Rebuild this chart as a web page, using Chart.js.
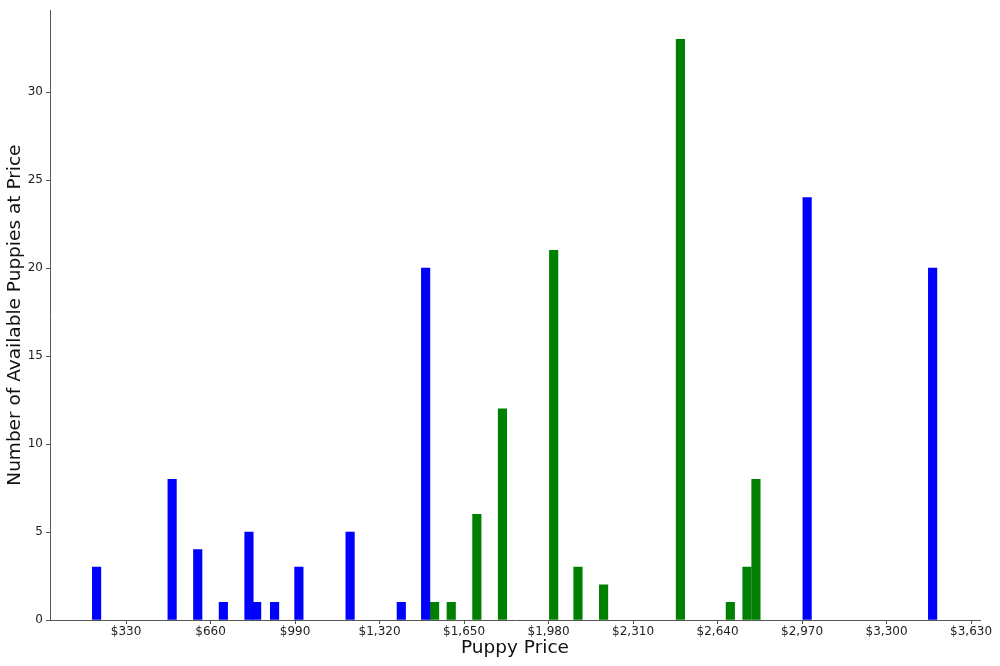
<!DOCTYPE html>
<html>
<head>
<meta charset="utf-8">
<script src="https://cdn.jsdelivr.net/npm/chart.js@4"></script>
<style>
  html, body { margin: 0; padding: 0; background: #fff; }
  #chart { display: block; }
</style>
</head>
<body>
<canvas id="chart" width="1000" height="666"></canvas>
<script>
// puppy prices (bin centers) and counts
const bluePrices = [215, 510, 610, 710, 810, 840, 910, 1005, 1205, 1405, 1500, 2990, 3480];
const blueCounts = [3, 8, 4, 1, 5, 1, 1, 3, 5, 1, 20, 24, 20];

const greenPrices = [1535, 1600, 1700, 1800, 2000, 2095, 2195, 2495, 2690, 2755, 2790];
const greenCounts = [1, 1, 6, 12, 21, 3, 2, 33, 1, 3, 8];

const xTicks = [330, 660, 990, 1320, 1650, 1980, 2310, 2640, 2970, 3300, 3630];
const yTicks = [0, 5, 10, 15, 20, 25, 30];

const toPoints = (xs, ys) => xs.map((x, i) => ({ x: x, y: ys[i] }));

const ctx = document.getElementById('chart');
Chart.defaults.font.family = '"DejaVu Sans", sans-serif';
Chart.defaults.color = '#222';

new Chart(ctx, {
  type: 'bar',
  data: {
    datasets: [
      {
        label: 'blue',
        data: toPoints(bluePrices, blueCounts),
        backgroundColor: '#0000ff',
        barThickness: 8.5,
        grouped: false
      },
      {
        label: 'green',
        data: toPoints(greenPrices, greenCounts),
        backgroundColor: '#008000',
        barThickness: 8.5,
        grouped: false
      }
    ]
  },
  options: {
    responsive: false,
    animation: false,
    devicePixelRatio: 1,
    layout: { padding: { top: 6, right: 20, left: 0, bottom: 0 } },
    plugins: { legend: { display: false }, tooltip: { enabled: false } },
    scales: {
      x: {
        type: 'linear',
        offset: false,
        min: 33,
        max: 3665,
        afterBuildTicks: (axis) => { axis.ticks = xTicks.map(v => ({ value: v })); },
        afterFit: (axis) => { axis.height = 46; },
        ticks: {
          font: { size: 12 },
          padding: 1,
          maxRotation: 0,
          autoSkip: false,
          callback: (v) => '$' + v.toLocaleString('en-US')
        },
        grid: { offset: false, drawOnChartArea: false, drawTicks: true, tickLength: 4, color: '#555' },
        border: { display: true, color: '#555', width: 1 },
        title: {
          display: true,
          text: 'Puppy Price',
          font: { size: 18.5 },
          color: '#111',
          padding: { top: 0, bottom: 7 }
        }
      },
      y: {
        min: 0,
        max: 34.65,
        afterBuildTicks: (axis) => { axis.ticks = yTicks.map(v => ({ value: v })); },
        afterFit: (axis) => { axis.width = 50; },
        ticks: { font: { size: 12 }, padding: 3 },
        grid: { drawOnChartArea: false, drawTicks: true, tickLength: 4, color: '#555' },
        border: { display: true, color: '#555', width: 1 },
        title: {
          display: true,
          text: 'Number of Available Puppies at Price',
          font: { size: 18.5 },
          color: '#111',
          padding: { top: 4, bottom: 0 }
        }
      }
    }
  }
});
</script>
</body>
</html>
